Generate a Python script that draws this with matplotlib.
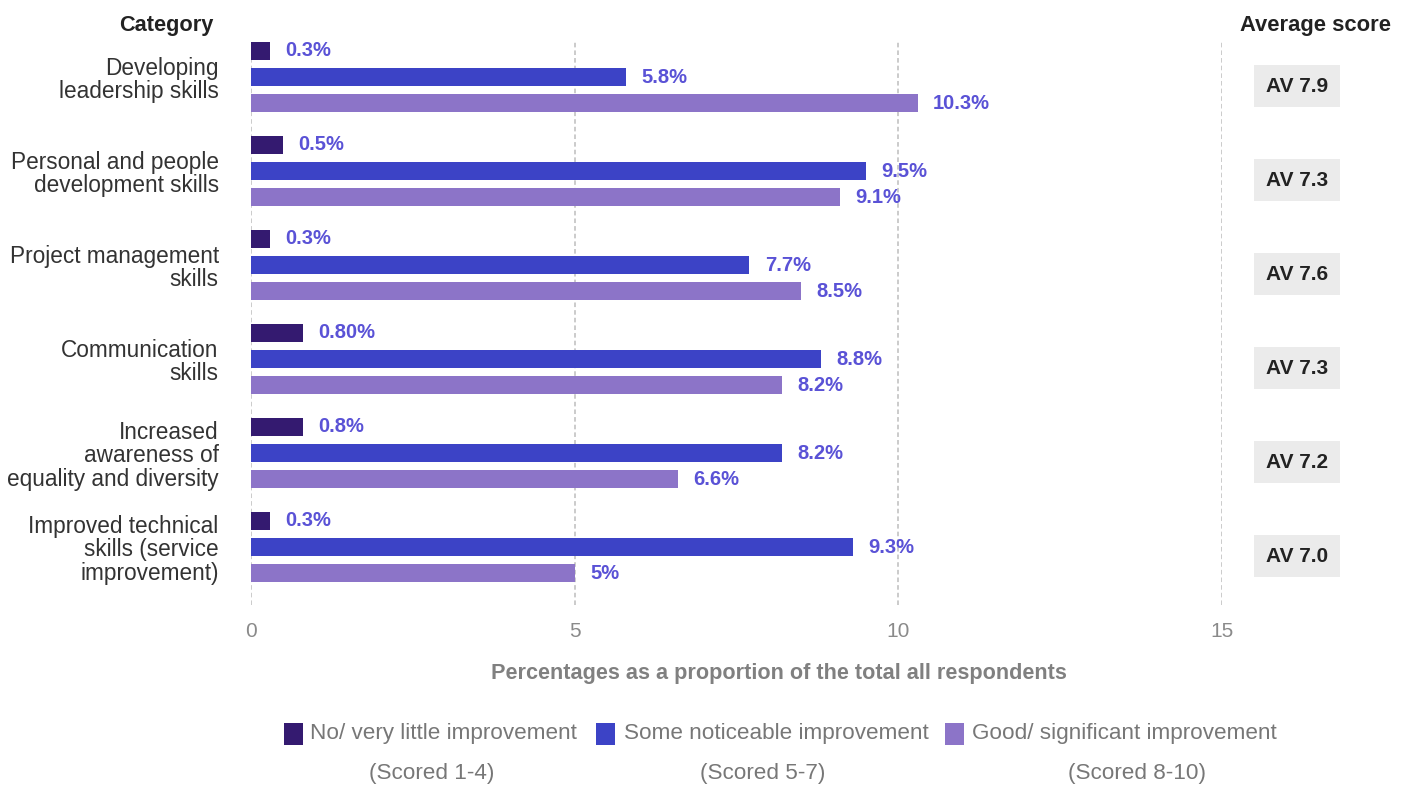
import matplotlib.pyplot as plt
from matplotlib.patches import Rectangle
import matplotlib.transforms as mtransforms

plt.rcParams['font.family'] = ['Liberation Sans', 'DejaVu Sans']

categories = [
    "Developing\nleadership skills",
    "Personal and people\ndevelopment skills",
    "Project management\nskills",
    "Communication\nskills",
    "Increased\nawareness of\nequality and diversity",
    "Improved technical\nskills (service\nimprovement)",
]
little = [0.3, 0.5, 0.3, 0.8, 0.8, 0.3]
some = [5.8, 9.5, 7.7, 8.8, 8.2, 9.3]
good = [10.3, 9.1, 8.5, 8.2, 6.6, 5.0]
little_lbl = ["0.3%", "0.5%", "0.3%", "0.80%", "0.8%", "0.3%"]
some_lbl = ["5.8%", "9.5%", "7.7%", "8.8%", "8.2%", "9.3%"]
good_lbl = ["10.3%", "9.1%", "8.5%", "8.2%", "6.6%", "5%"]
averages = ["AV 7.9", "AV 7.3", "AV 7.6", "AV 7.3", "AV 7.2", "AV 7.0"]
series_names = ["No/ very little improvement", "Some noticeable improvement",
                "Good/ significant improvement"]
series_notes = ["(Scored 1-4)", "(Scored 5-7)", "(Scored 8-10)"]
colors = ["#341a70", "#3c43c6", "#8c74c8"]
label_color = "#5a52d6"

fig = plt.figure(figsize=(14.1, 7.85), dpi=100)
ax = fig.add_axes([251 / 1410, 1 - 605 / 785, 971 / 1410, 565 / 785])

offset = 0.277
height = 0.19
ypos = list(range(len(categories)))
for k, (vals, lbls) in enumerate([(little, little_lbl), (some, some_lbl), (good, good_lbl)]):
    ys = [y + (k - 1) * offset for y in ypos]
    bars = ax.barh(ys, vals, height=height, color=colors[k], zorder=3)
    for b, lbl in zip(bars, lbls):
        ax.annotate(lbl, (b.get_width(), b.get_y() + b.get_height() / 2),
                    xytext=(11, 0), textcoords="offset points",
                    ha="left", va="center", fontsize=14.5, fontweight="bold",
                    color=label_color)

ax.set_xlim(0, 15)
ax.set_ylim(5.617, -0.394)
for x in [0, 5, 10, 15]:
    ax.axvline(x, color="#bdbdbd", lw=1.1, ls=(0, (3, 2)), zorder=1)
for s in ax.spines.values():
    s.set_visible(False)
ax.set_xticks([0, 5, 10, 15])
ax.tick_params(axis="x", length=0, pad=12, labelsize=15, labelcolor="#8a8a8a")
ax.set_yticks([])

# category names on the left
for y, name in zip(ypos, categories):
    ax.text(-0.5, y + 0.03, name, ha="right", va="center", fontsize=16.3,
            color="#333333", linespacing=1.02)

# average score boxes on the right
trans = mtransforms.blended_transform_factory(fig.transFigure, ax.transData)
for y, av in zip(ypos, averages):
    ax.text(1297 / 1410, y + 0.1, av, transform=trans, ha="center", va="center",
            fontsize=15, fontweight="bold", color="#222222", clip_on=False,
            bbox=dict(boxstyle="square,pad=0.55", facecolor="#ebebeb", edgecolor="none"))

fig.text(166 / 1410, 1 - 25 / 785, "Category", ha="center", va="center",
         fontsize=15.7, fontweight="bold", color="#222222")
fig.text(1315 / 1410, 1 - 25 / 785, "Average score", ha="center", va="center",
         fontsize=15.8, fontweight="bold", color="#222222")
fig.text(779 / 1410, 1 - 673 / 785,
         "Percentages as a proportion of the total all respondents",
         ha="center", va="center", fontsize=15.6, fontweight="bold", color="#808080")

# legend
sq_x = [284, 596, 945]
txt_x = [310, 624, 972]
note_x = [432, 763, 1137]
for k in range(3):
    fig.add_artist(Rectangle((sq_x[k] / 1410, 1 - 745 / 785), 19 / 1410, 22 / 785,
                             transform=fig.transFigure, facecolor=colors[k],
                             edgecolor="none"))
    fig.text(txt_x[k] / 1410, 1 - 734 / 785, series_names[k], ha="left",
             va="center", fontsize=16.2, color="#777777")
    fig.text(note_x[k] / 1410, 1 - 773 / 785, series_notes[k], ha="center",
             va="center", fontsize=16.2, color="#777777")

fig.savefig("out.png", dpi=100)
